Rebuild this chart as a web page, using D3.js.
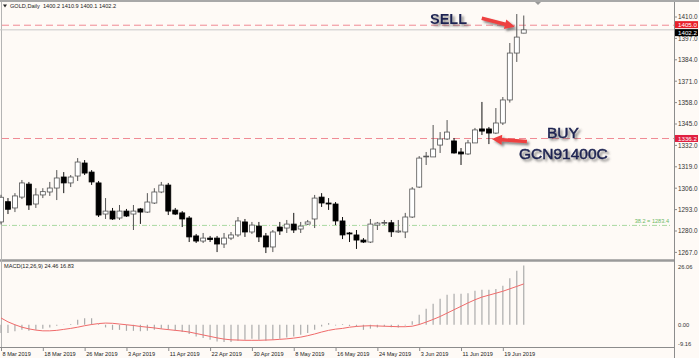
<!DOCTYPE html>
<html>
<head>
<meta charset="utf-8">
<script src="https://d3js.org/d3.v7.min.js"></script>
<style>
  html, body { margin: 0; padding: 0; background: #fefaf6; }
  svg { display: block; }
  text { font-family: "Liberation Sans", Tahoma, Arial, sans-serif; }
</style>
</head>
<body>
<svg class="main-svg" width="699" height="358"></svg>
<script>
// trading days shown on the chart
var dates = [
  '2019-03-08','2019-03-11','2019-03-12','2019-03-13','2019-03-14','2019-03-15',
  '2019-03-18','2019-03-19','2019-03-20','2019-03-21','2019-03-22',
  '2019-03-25','2019-03-26','2019-03-27','2019-03-28','2019-03-29',
  '2019-04-01','2019-04-02','2019-04-03','2019-04-04','2019-04-05',
  '2019-04-08','2019-04-09','2019-04-10','2019-04-11','2019-04-12',
  '2019-04-15','2019-04-16','2019-04-17','2019-04-18',
  '2019-04-22','2019-04-23','2019-04-24','2019-04-25','2019-04-26',
  '2019-04-29','2019-04-30','2019-05-01','2019-05-02','2019-05-03',
  '2019-05-06','2019-05-07','2019-05-08','2019-05-09','2019-05-10',
  '2019-05-13','2019-05-14','2019-05-15','2019-05-16','2019-05-17',
  '2019-05-20','2019-05-21','2019-05-22','2019-05-23','2019-05-24',
  '2019-05-27','2019-05-28','2019-05-29','2019-05-30','2019-05-31',
  '2019-06-03','2019-06-04','2019-06-05','2019-06-06','2019-06-07',
  '2019-06-10','2019-06-11','2019-06-12','2019-06-13','2019-06-14',
  '2019-06-17','2019-06-18','2019-06-19','2019-06-20','2019-06-21',
  '2019-06-24'
];

var open = [1285.5,1297.8,1294.0,1300.6,1308.5,1296.4,1301.9,1303.7,1306.1,1312.8,
  1309.2,1313.4,1321.3,1315.8,1309.2,1290.3,1292.1,1287.9,1292.1,1290.3,
  1293.4,1291.5,1297.0,1303.7,1307.9,1292.7,1291.0,1287.9,1277.0,1273.9,
  1275.7,1275.7,1272.1,1275.7,1277.6,1285.5,1279.4,1283.0,1277.0,1270.3,
  1282.4,1281.8,1284.2,1281.2,1284.2,1287.3,1300.6,1297.0,1296.4,1286.1,
  1278.8,1277.6,1274.5,1273.3,1283.6,1285.0,1285.0,1279.4,1279.4,1288.5,
  1306.7,1325.0,1325.0,1332.2,1335.9,1334.7,1328.0,1326.8,1333.5,1342.0,
  1342.0,1339.5,1345.6,1359.6,1388.1,1400.2];

var high = [1302.0,1300.0,1303.0,1311.0,1309.8,1306.0,1306.0,1309.8,1317.0,1315.8,
  1314.0,1324.3,1323.1,1317.0,1310.4,1300.0,1294.0,1295.8,1293.4,1295.8,
  1294.0,1303.0,1306.0,1309.8,1309.2,1294.0,1292.1,1289.1,1278.2,1278.8,
  1277.0,1277.0,1278.8,1279.4,1288.5,1287.3,1285.5,1285.5,1278.8,1280.6,
  1285.5,1286.7,1291.0,1285.5,1286.7,1301.9,1303.0,1300.0,1297.6,1288.5,
  1279.4,1280.6,1275.7,1287.3,1285.5,1286.7,1286.7,1286.7,1291.0,1306.7,
  1325.5,1328.0,1344.4,1340.1,1347.4,1336.5,1330.4,1335.3,1342.6,1358.4,
  1343.2,1354.7,1361.4,1394.2,1411.8,1410.9];

var low = [1284.0,1290.3,1291.5,1299.4,1292.8,1294.0,1300.0,1301.3,1298.8,1303.0,
  1306.7,1310.4,1314.0,1308.0,1288.5,1287.3,1286.7,1286.7,1288.5,1280.6,
  1284.3,1291.0,1296.4,1303.0,1289.7,1289.7,1282.4,1273.3,1272.7,1272.7,
  1273.3,1267.2,1269.7,1274.5,1276.4,1276.4,1278.2,1273.3,1266.6,1267.2,
  1277.6,1278.8,1278.8,1278.8,1283.6,1281.8,1294.6,1292.8,1283.6,1275.1,
  1273.3,1269.1,1272.7,1272.7,1280.6,1283.6,1276.4,1278.8,1275.7,1287.9,
  1306.1,1320.1,1325.0,1327.4,1335.3,1327.0,1320.1,1326.2,1333.5,1338.3,
  1332.8,1338.9,1344.4,1358.0,1382.7,1400.1];

var close = [1300.5,1293.2,1301.3,1309.2,1295.8,1301.9,1303.9,1306.1,1312.2,1309.2,
  1312.8,1321.9,1315.2,1309.8,1289.7,1292.1,1287.3,1292.1,1289.1,1292.1,
  1291.5,1297.6,1303.7,1307.9,1292.1,1290.3,1287.3,1276.4,1273.9,1275.7,
  1274.8,1272.1,1275.7,1277.6,1286.1,1279.4,1283.6,1276.4,1270.3,1279.4,
  1280.0,1284.2,1280.6,1283.0,1285.5,1300.0,1297.0,1296.4,1286.1,1277.6,
  1278.2,1274.5,1273.3,1284.2,1284.8,1285.2,1279.5,1280.0,1288.5,1305.5,
  1324.3,1325.5,1329.8,1335.9,1340.1,1327.4,1326.8,1333.5,1341.4,1340.7,
  1339.5,1345.6,1359.6,1388.1,1397.8,1402.2];

// MACD(12,26,9): main histogram and signal line
var macdMain = [-3.4,-3.4,-2.7,-2.1,-2.5,-2.1,-1.6,-1.1,-0.4,-0.1,
  0.3,2.1,2.7,2.7,0.3,-1.1,-2.1,-2.1,-2.5,-2.5,
  -2.7,-2.5,-2.1,-1.6,-2.1,-2.5,-3.0,-3.8,-4.8,-5.5,
  -6.2,-6.9,-7.1,-7.1,-6.6,-6.2,-5.8,-6.2,-6.6,-6.2,
  -5.8,-5.2,-4.8,-4.1,-3.4,-2.1,-0.7,0.7,-0.3,0.3,
  -0.5,-0.8,-2.1,-1.6,-1.1,-0.7,-1.0,-1.1,-0.3,1.4,
  4.1,6.6,8.7,10.7,12.4,12.8,12.8,13.0,14.0,14.4,
  14.4,14.7,16.1,19.2,22.3,24.46];

var macdSignal = [2.8,1.2,0.0,-1.0,-1.7,-2.2,-2.5,-2.5,-2.3,-1.9,
  -1.5,-1.0,-0.4,0.1,0.5,0.7,0.6,0.3,0.0,-0.3,
  -0.7,-1.0,-1.3,-1.7,-2.0,-2.3,-2.6,-3.0,-3.6,-4.2,
  -4.8,-5.4,-5.9,-6.2,-6.3,-6.4,-6.4,-6.4,-6.3,-6.2,
  -6.0,-5.8,-5.5,-5.1,-4.5,-3.8,-3.0,-2.3,-1.8,-1.5,
  -1.0,-0.7,-0.5,-0.4,-0.5,-0.6,-0.7,-0.8,-0.8,-0.6,
  0.1,1.1,2.2,3.4,4.8,6.2,7.6,9.0,10.3,11.4,
  12.2,13.0,13.8,14.8,15.8,16.83];

var priceTicks = [1410, 1397, 1384, 1371, 1358, 1345, 1332, 1319, 1306, 1293, 1280, 1267];
var macdTicks = [26.06, 0, -9.16];
var timeTicks = ['2019-03-08','2019-03-18','2019-03-26','2019-04-03','2019-04-11','2019-04-22',
  '2019-04-30','2019-05-08','2019-05-16','2019-05-24','2019-06-03','2019-06-11','2019-06-19'];

var sellLevel = 1405.0,
    buyLevel = 1336.2,
    bidLevel = 1402.2,
    fiboLevel = 1283.4;

var d3 = window.d3;

var bg = '#fefaf6',
    axisColour = '#8c8c8c',
    pinkDash = '#f08a94',
    arrowRed = '#ee4040',
    inkNavy = '#1d2452',
    plotRight = 674;

var svg = d3.select('.main-svg');

svg.append('rect').attr('width', 699).attr('height', 358).attr('fill', bg);

var defs = svg.append('defs');
defs.append('filter').attr('id', 'shadow')
  .attr('x', '-20%').attr('y', '-40%').attr('width', '150%').attr('height', '190%')
  .append('feDropShadow')
  .attr('dx', 2.2).attr('dy', 2.2).attr('stdDeviation', 1.3)
  .attr('flood-color', '#444').attr('flood-opacity', 0.65);

var x = d3.scalePoint().domain(dates).range([1, 523.75]);
var y = d3.scaleLinear().domain([1267, 1410]).range([252.4, 17]);
var ym = d3.scaleLinear().domain([-9.16, 26.06]).range([347, 261.5]);

// frame
svg.append('line').attr('x1', 0).attr('x2', 699).attr('y1', 1).attr('y2', 1)
  .attr('stroke', '#a8a8a8').attr('stroke-width', 2);
svg.append('line').attr('x1', 0).attr('x2', plotRight).attr('y1', 260.5).attr('y2', 260.5)
  .attr('stroke', '#9a9a9a').attr('stroke-width', 2.5);
svg.append('line').attr('x1', 1.5).attr('x2', 1.5).attr('y1', 2).attr('y2', 347)
  .attr('stroke', '#b4b4b4').attr('stroke-width', 1);
svg.append('line').attr('x1', plotRight + 0.5).attr('x2', plotRight + 0.5).attr('y1', 2).attr('y2', 358)
  .attr('stroke', axisColour);
svg.append('line').attr('x1', 0).attr('x2', plotRight).attr('y1', 347.5).attr('y2', 347.5)
  .attr('stroke', axisColour);

// level lines
svg.append('line').attr('x1', 0).attr('x2', plotRight).attr('y1', y(bidLevel)).attr('y2', y(bidLevel))
  .attr('stroke', '#c9c9c9');
[sellLevel, buyLevel].forEach(function (lv) {
  svg.append('line').attr('x1', 2).attr('x2', plotRight).attr('y1', y(lv)).attr('y2', y(lv))
    .attr('stroke', pinkDash).attr('stroke-dasharray', '7,4');
});
svg.append('line').attr('x1', 2).attr('x2', 670).attr('y1', y(fiboLevel)).attr('y2', y(fiboLevel))
  .attr('stroke', '#a8d8a0').attr('stroke-dasharray', '5,2,1,2');
svg.append('text').attr('x', 669).attr('y', y(fiboLevel) - 2)
  .attr('text-anchor', 'end').attr('font-size', 5.6).attr('fill', '#6cb864')
  .text('38.2 = ' + fiboLevel.toFixed(1));

// candles
var idx = d3.range(dates.length);
var bodyW = 5;
var candles = svg.append('g').selectAll('g').data(idx).enter().append('g');
candles.append('line')
  .attr('x1', i => x(dates[i])).attr('x2', i => x(dates[i]))
  .attr('y1', i => y(high[i])).attr('y2', i => y(low[i]))
  .attr('stroke', i => close[i] >= open[i] ? '#555' : '#111');
candles.append('rect')
  .attr('x', i => x(dates[i]) - bodyW / 2)
  .attr('y', i => y(Math.max(open[i], close[i])))
  .attr('width', bodyW)
  .attr('height', i => Math.max(0.8, Math.abs(y(open[i]) - y(close[i]))))
  .attr('fill', i => close[i] >= open[i] ? '#ffffff' : '#000000')
  .attr('stroke', i => close[i] >= open[i] ? '#555' : '#000')
  .attr('stroke-width', 0.8);

// right price axis
var priceAxis = svg.append('g');
priceAxis.selectAll('line').data(priceTicks).enter().append('line')
  .attr('x1', plotRight).attr('x2', plotRight + 3)
  .attr('y1', d => y(d)).attr('y2', d => y(d)).attr('stroke', axisColour);
priceAxis.selectAll('text').data(priceTicks).enter().append('text')
  .attr('x', 678).attr('y', d => y(d) + 2.3)
  .attr('font-size', 6.4).attr('fill', '#333')
  .text(d => d.toFixed(1));

// price tags on the right scale; the bid tag sits just under the sell tag
function levelTag(v, shift, colour, textColour) {
  svg.append('rect').attr('x', plotRight + 1).attr('y', y(v) + shift - 3.5)
    .attr('width', 23).attr('height', 7).attr('fill', colour);
  svg.append('text').attr('x', 678).attr('y', y(v) + shift + 2.2)
    .attr('font-size', 6.2).attr('fill', textColour).text(v.toFixed(1));
}
levelTag(bidLevel, 2.8, '#000', '#fff');
levelTag(sellLevel, -0.6, '#e8202a', '#fff');
levelTag(buyLevel, 0, '#e02040', '#fff');

// chart shift marker
svg.append('path').attr('d', 'M535,2 L541,2 L538,5 Z').attr('fill', '#999');

// title
svg.append('path').attr('d', 'M3,4.5 L7,4.5 L5,7.5 Z').attr('fill', '#222');
svg.append('text').attr('x', 10).attr('y', 8).attr('font-size', 5.6).attr('fill', '#222')
  .attr('xml:space', 'preserve')
  .text('GOLD,Daily  ' + [open, high, low, close].map(a => a[a.length - 1].toFixed(1)).join(' '));

// MACD panel
svg.append('g').selectAll('line').data(idx).enter().append('line')
  .attr('x1', i => x(dates[i])).attr('x2', i => x(dates[i]))
  .attr('y1', ym(0)).attr('y2', i => ym(macdMain[i]))
  .attr('stroke', '#ababab').attr('stroke-width', 1.2);
svg.append('path').datum(idx)
  .attr('d', d3.line().x(i => x(dates[i])).y(i => ym(macdSignal[i])))
  .attr('fill', 'none').attr('stroke', '#f06a6a').attr('stroke-width', 1);
svg.append('text').attr('x', 4).attr('y', 268).attr('font-size', 5.6).attr('fill', '#222')
  .text('MACD(12,26,9) ' + macdMain[macdMain.length - 1].toFixed(2) + ' ' +
        macdSignal[macdSignal.length - 1].toFixed(2));
svg.append('g').selectAll('text').data(macdTicks).enter().append('text')
  .attr('x', 678)
  .attr('y', (d, i) => i === 0 ? ym(d) + 7 : i === 2 ? ym(d) - 1.5 : ym(d) + 2)
  .attr('font-size', 5.8).attr('fill', '#333')
  .text(d => d.toFixed(2));

// time axis
var fmt = d3.timeFormat('%-d %b %Y'), parse = d3.timeParse('%Y-%m-%d');
var tAxis = svg.append('g');
tAxis.selectAll('line').data(timeTicks).enter().append('line')
  .attr('x1', d => x(d) + 0.5).attr('x2', d => x(d) + 0.5)
  .attr('y1', 347).attr('y2', 351).attr('stroke', axisColour);
tAxis.selectAll('text').data(timeTicks).enter().append('text')
  .attr('x', d => x(d) + 1.5).attr('y', 355.5)
  .attr('font-size', 5.6).attr('fill', '#222')
  .text(d => fmt(parse(d)));

// annotations
function arrow(x0, y0, x1, y1) {
  var a = Math.atan2(y1 - y0, x1 - x0), len = Math.hypot(x1 - x0, y1 - y0);
  var head = 10, hw = 5, sw = 1.8;
  var pts = [[0, -sw], [len - head, -sw], [len - head, -hw], [len, 0],
             [len - head, hw], [len - head, sw], [0, sw]];
  var c = Math.cos(a), s = Math.sin(a);
  svg.append('polygon')
    .attr('points', pts.map(p => [x0 + p[0] * c - p[1] * s, y0 + p[0] * s + p[1] * c].join(',')).join(' '))
    .attr('fill', arrowRed).attr('filter', 'url(#shadow)');
}
var sellBar = dates[74], buyBar = dates[70];
arrow(x(sellBar) - 35, y(sellLevel) - 7, x(sellBar) - 2, y(sellLevel) + 1.5);
arrow(x(buyBar) + 38, y(buyLevel) + 3, x(buyBar) + 3, y(buyLevel) + 0.5);

var labels = svg.append('g').attr('filter', 'url(#shadow)');
labels.append('text').attr('x', 430).attr('y', 23.5).attr('font-size', 14.5)
  .attr('font-weight', 'bold').attr('fill', inkNavy).text('SELL');
labels.append('text').attr('x', 547).attr('y', 137.5).attr('font-size', 15.5)
  .attr('fill', inkNavy).attr('stroke', inkNavy).attr('stroke-width', 0.5).text('BUY');
labels.append('text').attr('x', 519).attr('y', 158.5).attr('font-size', 15.5)
  .attr('fill', inkNavy).attr('stroke', inkNavy).attr('stroke-width', 0.5).text('GCN91400C');

console.log('loaded main');
</script>
</body>
</html>
